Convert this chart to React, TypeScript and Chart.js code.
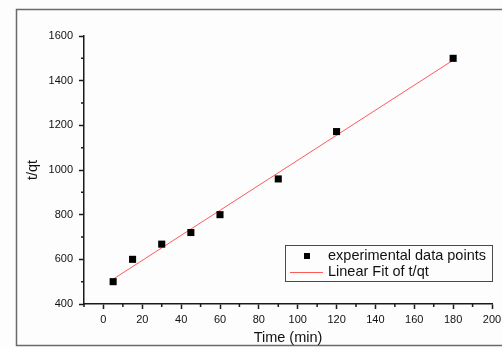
import React, { useEffect, useRef } from "react";
import { Chart, registerables } from "chart.js";

Chart.register(...registerables);

const timeMin = [5, 15, 30, 45, 60, 90, 120, 180];
const tqt = [500, 600, 668, 720, 800, 960, 1172, 1500];
const xTickValues = [0, 20, 40, 60, 80, 100, 120, 140, 160, 180, 200];
const yTickValues = [400, 600, 800, 1000, 1200, 1400, 1600];
const xMinorValues = [-10, 10, 30, 50, 70, 90, 110, 130, 150, 170, 190];
const yMinorValues = [500, 700, 900, 1100, 1300, 1500];
const seriesLabels = ["experimental data points", "Linear Fit of t/qt"];
const xTitle = "Time (min)";
const yTitle = "t/qt";

function linearFit(xs: number[], ys: number[]) {
  const n = xs.length;
  const mx = xs.reduce((a, b) => a + b, 0) / n;
  const my = ys.reduce((a, b) => a + b, 0) / n;
  let sxx = 0;
  let sxy = 0;
  for (let i = 0; i < n; i++) {
    sxx += (xs[i] - mx) * (xs[i] - mx);
    sxy += (xs[i] - mx) * (ys[i] - my);
  }
  const slope = sxy / sxx;
  return { slope, intercept: my - slope * mx };
}

const FONT = "'Liberation Sans', Arial, sans-serif";
const AXIS_COLOR = "#1a1a1a";
const FIT_COLOR = "#ff5a5a";

export default function App() {
  const ref = useRef<HTMLCanvasElement | null>(null);

  useEffect(() => {
    if (!ref.current) return;
    const fit = linearFit(timeMin, tqt);
    const xa = Math.min(...timeMin);
    const xb = Math.max(...timeMin);
    const fitData = [
      { x: xa, y: fit.intercept + fit.slope * xa },
      { x: xb, y: fit.intercept + fit.slope * xb },
    ];

    const decor = {
      id: "decor",
      beforeDraw(chart: any) {
        const ctx = chart.ctx;
        ctx.save();
        ctx.fillStyle = "#fdfdfd";
        ctx.fillRect(0, 0, chart.width, chart.height);
        ctx.strokeStyle = "#6a6a6a";
        ctx.lineWidth = 1.5;
        ctx.strokeRect(16.5, 9.5, 520, 336);
        ctx.restore();
      },
      afterDraw(chart: any) {
        const ctx = chart.ctx;
        const xs = chart.scales.x;
        const ys = chart.scales.y;
        ctx.save();
        ctx.strokeStyle = AXIS_COLOR;
        ctx.lineWidth = 1.5;
        ctx.beginPath();
        xMinorValues.forEach((v) => {
          const px = xs.getPixelForValue(v);
          ctx.moveTo(px, xs.top);
          ctx.lineTo(px, xs.top + 3);
        });
        yMinorValues.forEach((v) => {
          const py = ys.getPixelForValue(v);
          ctx.moveTo(ys.right, py);
          ctx.lineTo(ys.right - 3, py);
        });
        ctx.stroke();

        // legend
        ctx.strokeStyle = "#4a4a4a";
        ctx.lineWidth = 1;
        ctx.strokeRect(285.5, 245.5, 207, 36);
        ctx.fillStyle = "#000";
        ctx.fillRect(304, 253, 6, 6);
        ctx.strokeStyle = FIT_COLOR;
        ctx.beginPath();
        ctx.moveTo(290, 272.5);
        ctx.lineTo(323, 272.5);
        ctx.stroke();
        ctx.fillStyle = "#111";
        ctx.font = `14.5px ${FONT}`;
        ctx.textBaseline = "middle";
        ctx.textAlign = "left";
        ctx.fillText(seriesLabels[0], 328, 256);
        ctx.fillText(seriesLabels[1], 328, 272);
        ctx.restore();
      },
    };

    const chart = new Chart(ref.current, {
      type: "scatter",
      data: {
        datasets: [
          {
            type: "line",
            label: seriesLabels[1],
            data: fitData,
            borderColor: FIT_COLOR,
            borderWidth: 1,
            pointRadius: 0,
            fill: false,
            order: 2,
          } as any,
          {
            type: "scatter",
            label: seriesLabels[0],
            data: timeMin.map((t, i) => ({ x: t, y: tqt[i] })),
            pointStyle: "rect",
            pointRadius: 5,
            backgroundColor: "#000",
            borderColor: "#000",
            borderWidth: 0,
            order: 1,
          },
        ],
      },
      options: {
        responsive: false,
        animation: false,
        events: [],
        layout: { padding: { left: 0, top: 36, right: 10, bottom: 0 } },
        plugins: {
          legend: { display: false },
          tooltip: { enabled: false },
        },
        scales: {
          x: {
            type: "linear",
            min: -10,
            max: 200,
            afterBuildTicks: (s: any) => {
              s.ticks = xTickValues.map((v) => ({ value: v }));
            },
            afterFit: (s: any) => {
              s.height = 43;
              s.paddingLeft = 0;
              s.paddingRight = 0;
            },
            ticks: {
              font: { family: FONT, size: 11 },
              color: "#111",
              padding: 4,
              maxRotation: 0,
              autoSkip: false,
              callback: (v: any) => String(v),
            },
            grid: {
              display: true,
              drawOnChartArea: false,
              drawTicks: true,
              tickLength: 5,
              tickWidth: 1.5,
              tickColor: AXIS_COLOR,
            },
            border: { display: true, color: AXIS_COLOR, width: 1.5 },
            title: {
              display: true,
              text: xTitle,
              font: { family: FONT, size: 14.5 },
              color: "#111",
              padding: { top: 0, bottom: 0 },
            },
          },
          y: {
            type: "linear",
            min: 400,
            max: 1600,
            afterBuildTicks: (s: any) => {
              s.ticks = yTickValues.map((v) => ({ value: v }));
            },
            afterFit: (s: any) => {
              s.width = 84;
              s.paddingTop = 0;
              s.paddingBottom = 0;
            },
            ticks: {
              font: { family: FONT, size: 11 },
              color: "#111",
              padding: 6,
              autoSkip: false,
              callback: (v: any) => String(v),
            },
            grid: {
              display: true,
              drawOnChartArea: false,
              drawTicks: true,
              tickLength: 5,
              tickWidth: 1.5,
              tickColor: AXIS_COLOR,
            },
            border: { display: true, color: AXIS_COLOR, width: 1.5 },
            title: {
              display: true,
              text: yTitle,
              font: { family: FONT, size: 14.5 },
              color: "#111",
              padding: { top: 24, bottom: 0 },
            },
          },
        },
      },
      plugins: [decor],
    });
    return () => chart.destroy();
  }, []);

  return (
    <canvas
      ref={ref}
      width={502}
      height={347}
      style={{ position: "absolute", left: 0, top: 0, width: 502, height: 347 }}
    />
  );
}
